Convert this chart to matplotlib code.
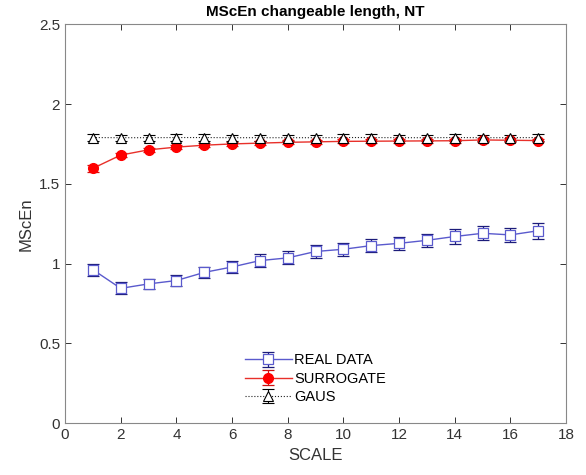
import matplotlib
matplotlib.use('Agg')
import matplotlib.pyplot as plt
import numpy as np

plt.rcParams['font.family'] = ['Liberation Sans', 'DejaVu Sans']

scale = np.arange(1, 18)

real = [0.962, 0.845, 0.873, 0.894, 0.945, 0.979, 1.019, 1.036, 1.076,
        1.09, 1.113, 1.127, 1.146, 1.17, 1.19, 1.18, 1.206]
real_err = [0.037, 0.037, 0.029, 0.035, 0.036, 0.038, 0.04, 0.04, 0.038,
            0.04, 0.04, 0.042, 0.042, 0.044, 0.045, 0.045, 0.049]

surr = [1.597, 1.68, 1.713, 1.73, 1.742, 1.75, 1.755, 1.76, 1.763,
        1.766, 1.767, 1.768, 1.769, 1.77, 1.775, 1.773, 1.771]
surr_err = [0.02, 0.015, 0.013, 0.012, 0.012, 0.012, 0.012, 0.012, 0.012,
            0.012, 0.012, 0.012, 0.012, 0.012, 0.012, 0.012, 0.012]

gaus = [1.79, 1.789, 1.789, 1.79, 1.79, 1.789, 1.789, 1.789, 1.789,
        1.79, 1.79, 1.789, 1.789, 1.79, 1.789, 1.789, 1.79]
gaus_err = [0.02] * 17

fig = plt.figure(figsize=(5.86, 4.75), dpi=100)
ax = fig.add_axes([0.111, 0.109, 0.855, 0.840])

ax.errorbar(scale, real, yerr=real_err, color='#5a5acd', ecolor='#1c1c7a',
            elinewidth=0.9, capsize=4, capthick=0.9, lw=1.0, marker='s',
            ms=7, mfc='white', mec='#5a5acd', mew=0.9, label='REAL DATA')
ax.errorbar(scale, surr, yerr=surr_err, color='#e8302a', ecolor='#d01010',
            elinewidth=0.9, capsize=4, capthick=0.9, lw=1.0, marker='o',
            ms=7, mfc='red', mec='red', label='SURROGATE')
ax.errorbar(scale, gaus, yerr=gaus_err, color='#222222', ecolor='black',
            elinewidth=0.8, capsize=4, capthick=0.8, lw=0.8, ls=':',
            marker='^', ms=7, mfc='white', mec='black', mew=0.8, label='GAUS')

ax.set_xlim(0, 18)
ax.set_ylim(0, 2.5)
ax.set_xticks(range(0, 19, 2))
ax.set_yticks([0, 0.5, 1, 1.5, 2, 2.5])
ax.set_yticklabels(['0', '0.5', '1', '1.5', '2', '2.5'])
ax.tick_params(direction='in', top=True, right=True, length=4,
               colors='#333333', labelsize=11, width=0.7)
for sp in ax.spines.values():
    sp.set_color('#888888')
    sp.set_linewidth(0.8)

ax.set_xlabel('SCALE', fontsize=12, color='#333333')
ax.set_ylabel('MScEn', fontsize=12, color='#333333')
ax.set_title('MScEn changeable length, NT', fontsize=11, fontweight='bold',
             pad=6)

ax.legend(loc='lower center', bbox_to_anchor=(0.5, 0.015), frameon=False,
          fontsize=10.5, handlelength=3.2, handletextpad=0.2,
          labelspacing=0.3)

fig.savefig('out.png', dpi=100)
